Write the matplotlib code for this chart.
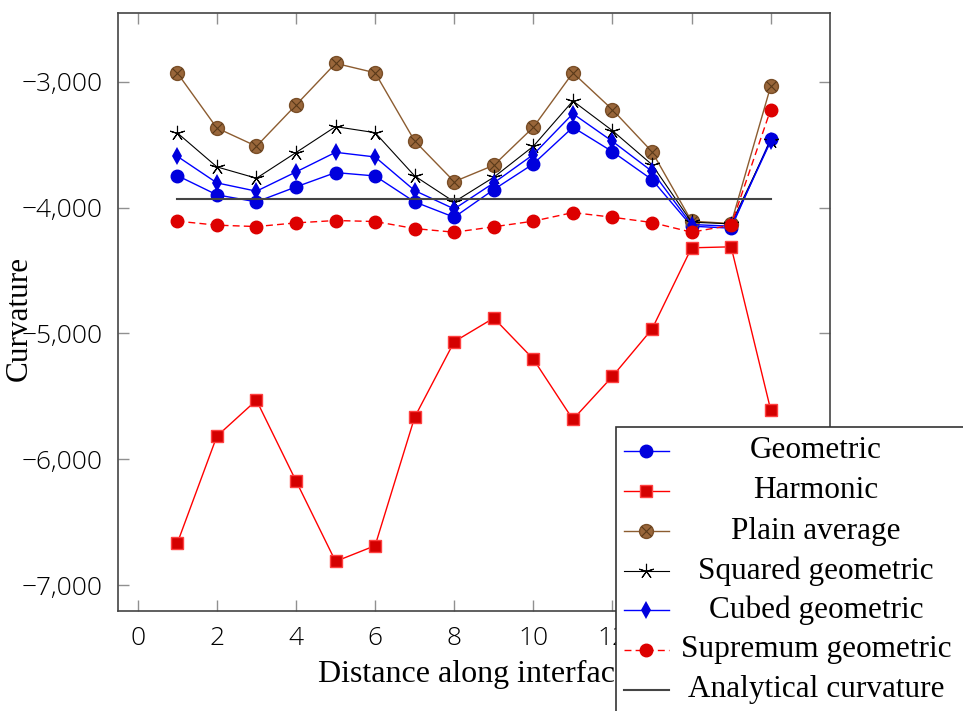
import matplotlib.pyplot as plt
from matplotlib.lines import Line2D
from matplotlib.patches import Rectangle
from matplotlib.ticker import FuncFormatter, MultipleLocator

# Дані
x = list(range(1, 17))
geometric = [-3746, -3899, -3955, -3836, -3722, -3749, -3955, -4077,
             -3857, -3653, -3362, -3556, -3778, -4148, -4164, -3455]
harmonic = [-6666, -5817, -5531, -6172, -6812, -6687, -5666, -5066,
            -4878, -5204, -5684, -5342, -4966, -4320, -4312, -5607]
plain_average = [-2931, -3368, -3513, -3185, -2854, -2929, -3471, -3794,
                 -3664, -3362, -2929, -3222, -3556, -4108, -4127, -3037]
squared_geometric = [-3407, -3677, -3767, -3563, -3357, -3405, -3749, -3955,
                     -3759, -3513, -3153, -3389, -3659, -4116, -4130, -3470]
cubed_geometric = [-3593, -3804, -3870, -3717, -3561, -3598, -3865, -4011,
                   -3804, -3579, -3254, -3474, -3712, -4135, -4148, -3474]
supremum_geometric = [-4108, -4140, -4151, -4122, -4103, -4111, -4167, -4196,
                      -4153, -4108, -4040, -4077, -4119, -4196, -4140, -3222]
analytical = [-3934] * len(x)

labels = ["Geometric", "Harmonic", "Plain average", "Squared geometric",
          "Cubed geometric", "Supremum geometric", "Analytical curvature"]

serif = "Liberation Serif"
sans = "Open Sans"

fig = plt.figure(figsize=(9.63, 7.11), dpi=100)
ax = fig.add_axes([118 / 963, 1 - 611 / 711, 712 / 963, 598 / 711])

# Стилі серій (однакові для графіка та легенди)
styles = [
    dict(color="#0000ff", lw=1.0, marker="o", ms=9, mfc="#0000dd", mec="#0000dd"),
    dict(color="#ff0000", lw=1.0, marker="s", ms=9, mfc="#d40000", mec="#ff4040"),
    dict(color="#8c5c30", lw=1.0, marker="o", ms=10, mfc="#99663a", mec="#7a4f28"),
    dict(color="black", lw=0.8, marker=(5, 2, 0), ms=11, mew=0.8, mec="black"),
    dict(color="#0000ff", lw=1.0, marker="d", ms=9, mfc="#0000dd", mec="#0000dd", mew=0),
    dict(color="#ff0000", lw=1.0, ls=(0, (5, 3)), marker="o", ms=9, mfc="#dd0000", mec="#dd0000"),
    dict(color="#444444", lw=1.5, marker=None),
]
series = [geometric, harmonic, plain_average, squared_geometric,
          cubed_geometric, supremum_geometric, analytical]
draw_order = [6, 1, 2, 3, 4, 0, 5]

for i in draw_order:
    ax.plot(x, series[i], zorder=3 + i * 0.1, **styles[i])
    if i == 2:
        # хрестик всередині кружка (otimes)
        ax.plot(x, series[i], ls="none", marker="x", ms=6.5, mew=0.8,
                mec="#5a3a1a", zorder=3.25)

ax.set_xlim(-0.5, 17.5)
ax.set_ylim(-7206, -2454)
ax.xaxis.set_major_locator(MultipleLocator(2))
ax.yaxis.set_major_locator(MultipleLocator(1000))
ax.yaxis.set_major_formatter(FuncFormatter(lambda v, p: f"{v:,.0f}".replace("-", "\u2212")))

ax.tick_params(direction="in", length=8, width=1, color="#909090",
               top=True, right=True, labelsize=19, pad=11)
for lab in ax.get_xticklabels() + ax.get_yticklabels():
    lab.set_fontfamily(sans)
    lab.set_fontweight("light")
for sp in ax.spines.values():
    sp.set_color("#444444")
    sp.set_linewidth(1.2)

ax.set_xlabel("Distance along interface", fontsize=23, fontfamily=serif, labelpad=6)
ax.set_ylabel("Curvature", fontsize=22.5, fontfamily=serif)
ax.yaxis.set_label_coords(-0.118, 0.49)

# Легенда вручну (текст по центру, як у pgfplots)
W, H = 963.0, 711.0
fig.patches.append(Rectangle((616 / W, -0.05), 0.5, (711 - 427) / H + 0.05,
                             transform=fig.transFigure, facecolor="white",
                             edgecolor="#333333", linewidth=1.2, zorder=10))
row_y = [451, 491, 531, 571, 610, 650, 690]
for i, lab in enumerate(labels):
    yy = 1 - row_y[i] / H
    st = dict(styles[i])
    fig.lines.append(Line2D([624 / W, 646 / W, 669 / W], [yy] * 3,
                            transform=fig.transFigure, markevery=[1],
                            zorder=11, **st))
    if i == 2:
        fig.lines.append(Line2D([646 / W], [yy], transform=fig.transFigure,
                                ls="none", marker="x", ms=6.5, mew=0.8,
                                mec="#5a3a1a", zorder=12))
    fig.text(816 / W, yy, lab, ha="center", va="center", fontsize=22.5,
             fontfamily=serif, zorder=12)

fig.savefig("out.png", dpi=100)
